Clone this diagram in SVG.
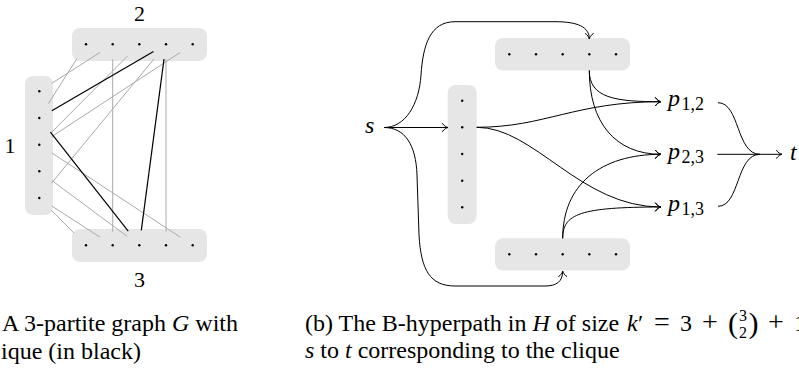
<svg xmlns="http://www.w3.org/2000/svg" width="799" height="370" viewBox="0 0 799 370">
<style>
.box{fill:#e6e6e6;stroke:none}
.dot{fill:#000}
.g{stroke:#aaaaaa;stroke-width:1;fill:none}
.k{stroke:#000;stroke-width:1.2;fill:none}
.c{stroke:#000;stroke-width:1;fill:none}
.t{font-family:"Liberation Serif","Times New Roman",serif;font-size:24px;fill:#000}
.lab{font-family:"Liberation Serif","Times New Roman",serif;font-size:22px;fill:#000}
.i{font-style:italic}
.sub{font-family:"Liberation Serif","Times New Roman",serif;font-size:18px;fill:#000}
.op{font-family:"Liberation Serif","Times New Roman",serif;font-size:28px;fill:#000}
</style>
<defs>
<marker id="ar" viewBox="-7 -6 8 12" markerWidth="8" markerHeight="12" refX="0" refY="0" orient="auto" markerUnits="userSpaceOnUse">
<path d="M-5.5,-4 C-4,-1.5 -1.5,-0.4 0,0 C-1.5,0.4 -4,1.5 -5.5,4" fill="none" stroke="#000" stroke-width="1" stroke-linecap="round"/>
</marker>
</defs>

<!-- (a) 3-partite graph -->
<g id="a-part2">
<rect class="box" x="72" y="28" width="135" height="33" rx="8"/>
<circle class="dot" cx="86" cy="44.3" r="1.2"/><circle class="dot" cx="112.7" cy="44.3" r="1.2"/><circle class="dot" cx="139.3" cy="44.3" r="1.2"/><circle class="dot" cx="166" cy="44.3" r="1.2"/><circle class="dot" cx="192.7" cy="44.3" r="1.2"/>
<text class="lab" x="139.5" y="20.7" text-anchor="middle">2</text>
</g>
<g id="a-part1">
<rect class="box" x="25" y="76" width="28" height="139" rx="8"/>
<circle class="dot" cx="39.3" cy="91.3" r="1.2"/><circle class="dot" cx="39.3" cy="118" r="1.2"/><circle class="dot" cx="39.3" cy="144.7" r="1.2"/><circle class="dot" cx="39.3" cy="171.3" r="1.2"/><circle class="dot" cx="39.3" cy="198" r="1.2"/>
<text class="lab" x="10" y="153.3" text-anchor="middle">1</text>
</g>
<g id="a-part3">
<rect class="box" x="72" y="229" width="135" height="33" rx="8"/>
<circle class="dot" cx="86" cy="245.3" r="1.2"/><circle class="dot" cx="112.7" cy="245.3" r="1.2"/><circle class="dot" cx="139.3" cy="245.3" r="1.2"/><circle class="dot" cx="166" cy="245.3" r="1.2"/><circle class="dot" cx="192.7" cy="245.3" r="1.2"/>
<text class="lab" x="139.5" y="287.3" text-anchor="middle">3</text>
</g>
<g id="a-edges">
<line class="g" x1="51.9" y1="83.2" x2="100.1" y2="52.4"/>
<line class="g" x1="48.4" y1="103.6" x2="76.9" y2="58.7"/>
<line class="g" x1="51.3" y1="132.6" x2="127.3" y2="56.2"/>
<line class="g" x1="51.9" y1="136.5" x2="180.1" y2="52.5"/>
<line class="g" x1="51.4" y1="183.3" x2="153.9" y2="59"/>
<line class="g" x1="112.7" y1="59.3" x2="112.7" y2="231.7"/>
<line class="g" x1="166" y1="59.3" x2="166" y2="231.7"/>
<line class="g" x1="51.8" y1="152.9" x2="180.2" y2="237.1"/>
<line class="g" x1="52" y1="180.6" x2="127.2" y2="236.4"/>
<line class="g" x1="51.9" y1="206.1" x2="100.1" y2="237.2"/>
<line class="g" x1="51.2" y1="210.1" x2="74.1" y2="233.2"/>
<line class="k" x1="51.8" y1="110.7" x2="153.5" y2="51.6"/>
<line class="k" x1="50.4" y1="132.1" x2="128.2" y2="231.2"/>
<line class="k" x1="164" y1="59.2" x2="141.3" y2="230.4"/>
</g>

<!-- (b) hyperpath -->
<g id="b-s"><text class="t i" x="365" y="132.5">s</text></g>
<g id="b-part2">
<rect class="box" x="495" y="38" width="135" height="32.5" rx="8"/>
<circle class="dot" cx="509.3" cy="54.2" r="1.2"/><circle class="dot" cx="536" cy="54.2" r="1.2"/><circle class="dot" cx="562.7" cy="54.2" r="1.2"/><circle class="dot" cx="589.3" cy="54.2" r="1.2"/><circle class="dot" cx="616" cy="54.2" r="1.2"/>
</g>
<g id="b-part1">
<rect class="box" x="447.7" y="85" width="29" height="139" rx="8"/>
<circle class="dot" cx="462.2" cy="100.7" r="1.2"/><circle class="dot" cx="462.2" cy="127.3" r="1.2"/><circle class="dot" cx="462.2" cy="154" r="1.2"/><circle class="dot" cx="462.2" cy="180.7" r="1.2"/><circle class="dot" cx="462.2" cy="207.3" r="1.2"/>
</g>
<g id="b-part3">
<rect class="box" x="495" y="238.3" width="135" height="32.2" rx="8"/>
<circle class="dot" cx="509.3" cy="254.2" r="1.2"/><circle class="dot" cx="536" cy="254.2" r="1.2"/><circle class="dot" cx="562.7" cy="254.2" r="1.2"/><circle class="dot" cx="589.3" cy="254.2" r="1.2"/><circle class="dot" cx="616" cy="254.2" r="1.2"/>
</g>
<g id="b-p12"><text class="t i" x="668" y="106">p</text><text class="sub" x="681.5" y="110">1,2</text></g>
<g id="b-p23"><text class="t i" x="668" y="158.6">p</text><text class="sub" x="681.5" y="162.6">2,3</text></g>
<g id="b-p13"><text class="t i" x="668" y="211.3">p</text><text class="sub" x="681.5" y="215.3">1,3</text></g>
<g id="b-t"><text class="t i" x="790" y="160">t</text></g>
<g id="b-edges">
<path class="c" d="M384,127.5 L448,127.5" marker-end="url(#ar)"/>
<path class="c" d="M384,127.5 C405,127.5 419,105 421,75 C423,45 430,21.7 455,21.7 L555,21.7 C578,21.7 589.3,27 589.3,39" marker-end="url(#ar)"/>
<path class="c" d="M384,127.5 C405,127.5 416,145 417,175 L419,235 C421,270 430,286 455,286 L545,286 C556,286 562.7,282 562.7,271" marker-end="url(#ar)"/>
<path class="c" d="M589.3,70.5 C589.3,98 615,101.7 661,101.7" marker-end="url(#ar)"/>
<path class="c" d="M476.7,127.3 C545,127.3 575,101.7 661,101.7" marker-end="url(#ar)"/>
<path class="c" d="M589.3,70.5 C589.3,122 615,154.3 661,154.3" marker-end="url(#ar)"/>
<path class="c" d="M562.7,238.3 C562.7,185 600,154.3 661,154.3" marker-end="url(#ar)"/>
<path class="c" d="M476.7,127.3 C535,127.3 580,207 661,207" marker-end="url(#ar)"/>
<path class="c" d="M562.7,238.3 C562.7,214 580,207 661,207" marker-end="url(#ar)"/>
<path class="c" d="M718,102.7 C740,102.7 736,154.3 760,154.3"/>
<path class="c" d="M718,206.3 C740,206.3 736,154.3 760,154.3"/>
<path class="c" d="M717.3,154.3 L782,154.3" marker-end="url(#ar)"/>
</g>

<!-- captions -->
<g id="captions">
<text class="t" x="2" y="331">A 3-partite graph <tspan class="i">G</tspan> with</text>
<text class="t" x="1" y="359">ique (in black)</text>
<text class="t" x="305" y="331">(b) The B-hyperpath in <tspan class="i">H</tspan> of size</text>
<text class="t i" x="627" y="331">k</text>
<text class="t" x="638" y="331">′</text>
<text class="op" x="654" y="331">=</text>
<text class="t" x="680" y="331">3</text>
<text class="op" x="702" y="331">+</text>
<text class="t" x="728" y="333" style="font-size:30px">(</text>
<text class="sub" x="739" y="321" style="font-size:16px">3</text>
<text class="sub" x="739" y="338" style="font-size:16px">2</text>
<text class="t" x="748.5" y="333" style="font-size:30px">)</text>
<text class="op" x="768" y="331">+</text>
<text class="t" x="794" y="331">1</text>
<text class="t" x="305" y="358"><tspan class="i">s</tspan> to <tspan class="i">t</tspan> corresponding to the clique</text>
</g>
</svg>
